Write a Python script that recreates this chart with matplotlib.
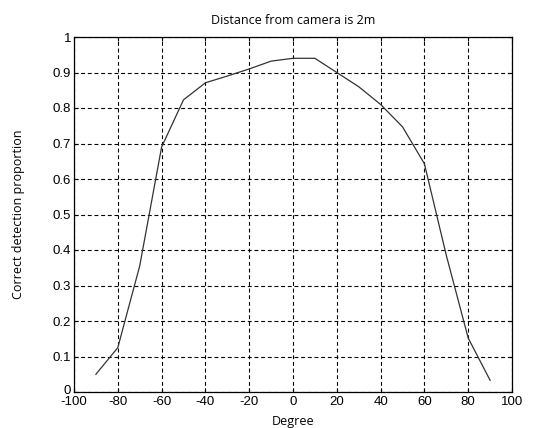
import matplotlib
matplotlib.use("Agg")
import matplotlib.pyplot as plt
import matplotlib.transforms as mtransforms

degrees = [-90, -80, -70, -60, -50, -40, -30, -20, -10, 0, 10, 20, 30, 40, 50, 60, 70, 80, 90]
proportion = [0.05, 0.125, 0.355, 0.69, 0.823, 0.871, 0.89, 0.91, 0.932, 0.94, 0.94, 0.90, 0.86, 0.81, 0.747, 0.643, 0.385, 0.152, 0.033]
x_ticks = [-100, -80, -60, -40, -20, 0, 20, 40, 60, 80, 100]
y_ticks = [0, 0.1, 0.2, 0.3, 0.4, 0.5, 0.6, 0.7, 0.8, 0.9, 1]
y_tick_labels = ["0", "0.1", "0.2", "0.3", "0.4", "0.5", "0.6", "0.7", "0.8", "0.9", "1"]

plt.rcParams['font.family'] = ['Liberation Sans', 'DejaVu Sans']

fig = plt.figure(figsize=(5.36, 4.28), dpi=100)
ax = fig.add_axes([74/536, 1 - 392/428, (512 - 74)/536, (392 - 37)/428])

ax.plot(degrees, proportion, color='#333333', linewidth=0.9)
ax.set_xlim(-100, 100)
ax.set_ylim(0, 1)
ax.set_xticks(x_ticks)
ax.set_xticklabels([str(t) for t in x_ticks])
ax.set_yticks(y_ticks)
ax.set_yticklabels(y_tick_labels)
ax.grid(True, color='black', linestyle=(0, (3.5, 2.5)), linewidth=0.8)
ax.tick_params(direction='in', top=True, right=True, labelsize=9.5, length=3)
ax.tick_params(axis='x', pad=3)
ax.tick_params(axis='y', pad=2)
for s in ax.spines.values():
    s.set_linewidth(0.9)

# nudge the "0" y label up slightly, as in the reference
lbl0 = ax.get_yticklabels()[0]
lbl0.set_transform(lbl0.get_transform() + mtransforms.ScaledTranslation(0, 3/100, fig.dpi_scale_trans))

ax.set_title("Distance from camera is 2m", fontsize=9, family=['Open Sans', 'DejaVu Sans'], pad=9)
ax.set_xlabel("Degree", fontsize=9, family=['Open Sans', 'DejaVu Sans'], labelpad=5)
ax.set_ylabel("Correct detection proportion", fontsize=9, family=['Open Sans', 'DejaVu Sans'], labelpad=20)

fig.savefig("out.png", dpi=100)
